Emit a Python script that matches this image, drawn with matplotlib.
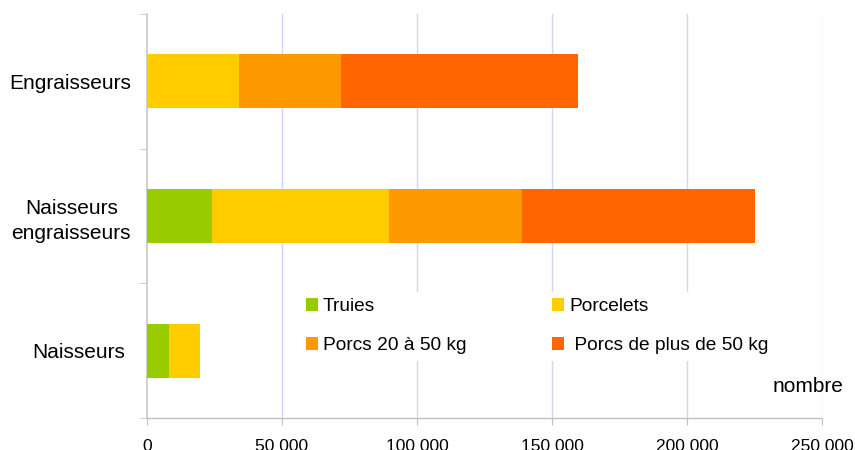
import numpy as np
import matplotlib
matplotlib.use('Agg')
import matplotlib.pyplot as plt
from matplotlib.transforms import ScaledTranslation

plt.rcParams['font.family'] = ['Liberation Sans', 'DejaVu Sans']

# Data (bottom to top)
categories = ['Naisseurs', 'Naisseurs\nengraisseurs', 'Engraisseurs']
truies = [8100, 24000, 0]
porcelets = [11400, 65500, 34000]
porcs_20_50 = [0, 49300, 37700]
porcs_plus_50 = [0, 86300, 87800]
series_names = ['Truies', 'Porcelets', 'Porcs 20 à 50 kg', ' Porcs de plus de 50 kg']
colors = ['#99CC00', '#FFCC00', '#FF9900', '#FF6600']
x_ticks = [0, 50000, 100000, 150000, 200000, 250000]
x_ticklabels = ['0', '50 000', '100 000', '150 000', '200 000', '250 000']

fig = plt.figure(figsize=(8.55, 4.5), dpi=100)
ax = fig.add_axes([147/855, 1 - 418/450, (822-147)/855, (418-14)/450])

y = np.arange(len(categories))
left = np.zeros(len(categories))
handles = []
for vals, name, col in zip([truies, porcelets, porcs_20_50, porcs_plus_50], series_names, colors):
    b = ax.barh(y, vals, left=left, height=0.4, color=col, label=name, zorder=3)
    handles.append(b)
    left = left + np.array(vals)

ax.set_xlim(0, 250000)
ax.set_ylim(-0.5, 2.5)

# axes styling
for s in ['top', 'right']:
    ax.spines[s].set_visible(False)
ax.spines['left'].set_color('#C8C8C8')
ax.spines['bottom'].set_color('#C0C0C0')
ax.spines['left'].set_linewidth(1.2)
ax.spines['bottom'].set_linewidth(1.0)

ax.set_xticks(x_ticks)
ax.set_xticklabels(x_ticklabels, fontsize=12.5)
ax.tick_params(axis='x', length=5, color='#C0C0C0', pad=10)
for xv in x_ticks[1:]:
    ax.axvline(xv, color='#D4D4FA', lw=1, zorder=1)

ax.set_yticks(y)
ax.set_yticklabels(categories, fontsize=15, multialignment='center', linespacing=1.4)
ax.tick_params(axis='y', length=0, pad=11.5)
ax.set_yticks([-0.5, 0.5, 1.5, 2.5], minor=True)
ax.tick_params(axis='y', which='minor', length=6, color='#C8C8C8')
# "Naisseurs" sits a little left of the others in the original
lab = ax.get_yticklabels()[0]
lab.set_transform(lab.get_transform() + ScaledTranslation(-6/100, 0, fig.dpi_scale_trans))

# legend filled column-wise, so reorder to get rows Truies/Porcelets, 20-50/plus 50
order = [0, 2, 1, 3]
leg = ax.legend(handles=[handles[i] for i in order], labels=[series_names[i] for i in order],
                ncol=2, loc='upper left',
                bbox_to_anchor=(300/855, 1 - 292/450), bbox_transform=fig.transFigure,
                fontsize=13.8, frameon=True, facecolor='white', edgecolor='white',
                framealpha=1, fancybox=False, borderpad=0.3, borderaxespad=0,
                handlelength=0.65, handleheight=0.65, handletextpad=0.25,
                columnspacing=4.45, labelspacing=1.15)
leg.set_zorder(4)

fig.text(843/855, 1 - 387/450, 'nombre', fontsize=15, ha='right', va='center')

fig.savefig('out.png', dpi=100)
